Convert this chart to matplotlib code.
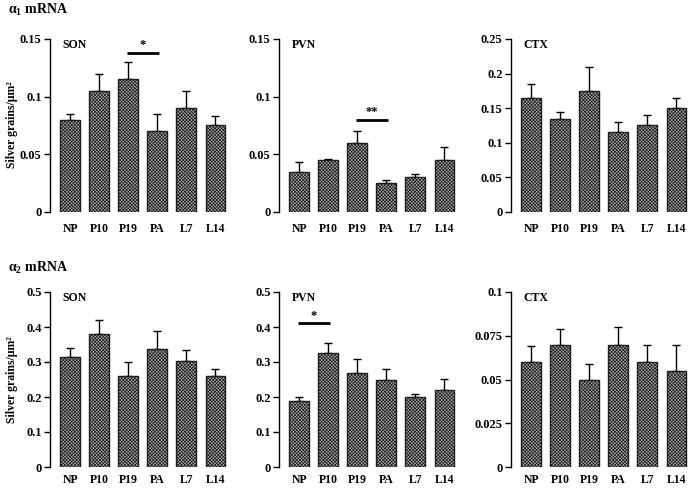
import numpy as np
import matplotlib
matplotlib.use("Agg")
import matplotlib.pyplot as plt

groups = ["NP", "P10", "P19", "PA", "L7", "L14"]

# alpha1 mRNA (mean, upper error bar end)
a1_son = [0.080, 0.105, 0.115, 0.070, 0.090, 0.075]
a1_son_top = [0.085, 0.120, 0.130, 0.085, 0.105, 0.083]
a1_pvn = [0.035, 0.045, 0.060, 0.025, 0.030, 0.045]
a1_pvn_top = [0.043, 0.046, 0.070, 0.028, 0.033, 0.056]
a1_ctx = [0.165, 0.135, 0.175, 0.115, 0.125, 0.150]
a1_ctx_top = [0.185, 0.145, 0.210, 0.130, 0.140, 0.165]

# alpha2 mRNA
a2_son = [0.315, 0.380, 0.260, 0.338, 0.303, 0.260]
a2_son_top = [0.340, 0.420, 0.300, 0.388, 0.333, 0.280]
a2_pvn = [0.190, 0.325, 0.270, 0.250, 0.200, 0.220]
a2_pvn_top = [0.200, 0.355, 0.310, 0.280, 0.210, 0.252]
a2_ctx = [0.060, 0.070, 0.050, 0.070, 0.060, 0.055]
a2_ctx_top = [0.069, 0.079, 0.059, 0.080, 0.070, 0.070]

plt.rcParams['font.family'] = 'Liberation Serif'
plt.rcParams['font.weight'] = 'bold'
plt.rcParams['mathtext.fontset'] = 'custom'
plt.rcParams['mathtext.rm'] = 'Liberation Serif:bold'
plt.rcParams['mathtext.it'] = 'Liberation Serif:bold'
plt.rcParams['mathtext.bf'] = 'Liberation Serif:bold'
plt.rcParams['hatch.color'] = '#3a3a3a'
plt.rcParams['hatch.linewidth'] = 0.5

fig = plt.figure(figsize=(6.92, 4.88), dpi=100)

W = 692.0
H = 488.0
lefts = [50, 279, 511]
rows = [(39, 212), (292, 467)]
label_pads = [8, 5]
ax_w = 180

panels = [
    [(a1_son, a1_son_top, "SON", 0.15, [0, 0.05, 0.1, 0.15], ["0", "0.05", "0.1", "0.15"]),
     (a1_pvn, a1_pvn_top, "PVN", 0.15, [0, 0.05, 0.1, 0.15], ["0", "0.05", "0.1", "0.15"]),
     (a1_ctx, a1_ctx_top, "CTX", 0.25, [0, 0.05, 0.1, 0.15, 0.2, 0.25],
      ["0", "0.05", "0.1", "0.15", "0.2", "0.25"])],
    [(a2_son, a2_son_top, "SON", 0.5, [0, 0.1, 0.2, 0.3, 0.4, 0.5],
      ["0", "0.1", "0.2", "0.3", "0.4", "0.5"]),
     (a2_pvn, a2_pvn_top, "PVN", 0.5, [0, 0.1, 0.2, 0.3, 0.4, 0.5],
      ["0", "0.1", "0.2", "0.3", "0.4", "0.5"]),
     (a2_ctx, a2_ctx_top, "CTX", 0.1, [0, 0.025, 0.05, 0.075, 0.1],
      ["0", "0.025", "0.05", "0.075", "0.1"])],
]

# significance bars: (row, col, x0, x1, y, label)
sig = [(0, 0, 2, 3, 0.138, "*"), (0, 1, 2, 3, 0.080, "**"), (1, 1, 0, 1, 0.411, "*")]

x = np.arange(len(groups))
axes = {}
for r, (ytop, ybot) in enumerate(rows):
    for c, (vals, tops, name, ymax, ticks, tlabels) in enumerate(panels[r]):
        ax = fig.add_axes([lefts[c] / W, 1 - ybot / H, ax_w / W, (ybot - ytop) / H])
        axes[(r, c)] = ax
        vals = np.array(vals)
        errs = np.array(tops) - vals
        ax.errorbar(x, vals, yerr=[np.zeros_like(errs), errs], fmt='none',
                    ecolor='black', elinewidth=1.0, capsize=3, capthick=1.0, zorder=1)
        ax.bar(x, vals, width=0.68, color='#a8a8a8', edgecolor='#1e1e1e',
               linewidth=1.0, hatch='xxxxxxxxxx', zorder=2)
        ax.set_xlim(-0.69, 5.5)
        ax.set_ylim(0, ymax)
        ax.set_yticks(ticks)
        ax.set_yticklabels(tlabels)
        ax.set_xticks(x)
        ax.set_xticklabels(groups)
        for s in ['top', 'right', 'bottom']:
            ax.spines[s].set_visible(False)
        ax.spines['left'].set_linewidth(1.0)
        ax.tick_params(axis='y', direction='out', length=4, width=1.0, labelsize=9, pad=2)
        ax.tick_params(axis='x', length=0, labelsize=8.5, pad=label_pads[r])
        ax.text(0.07, 0.965, name, transform=ax.transAxes, fontsize=8.5,
                fontweight='bold', va='center', ha='left')
        ax.patch.set_alpha(0)

for r, c, x0, x1, yv, lab in sig:
    ax = axes[(r, c)]
    ax.plot([x0 - 0.05, x1 + 0.05], [yv, yv], color='black', lw=2, solid_capstyle='butt')
    ax.annotate(lab, ((x0 + x1) / 2, yv), xytext=(0, 1), textcoords='offset points',
                ha='center', va='bottom', fontsize=9, fontweight='bold')

fig.text(8 / W, 1 - 10 / H, r"$\mathrm{α}_1$ mRNA", fontsize=10, fontweight='bold', va='center')
fig.text(8 / W, 1 - 268 / H, r"$\mathrm{α}_2$ mRNA", fontsize=10, fontweight='bold', va='center')
fig.text(12 / W, 1 - 125 / H, "Silver grains/µm²", rotation=90,
         fontsize=8.5, fontweight='bold', ha='center', va='center')
fig.text(12 / W, 1 - 380 / H, "Silver grains/µm²", rotation=90,
         fontsize=8.5, fontweight='bold', ha='center', va='center')

fig.savefig("out.png", dpi=100)
